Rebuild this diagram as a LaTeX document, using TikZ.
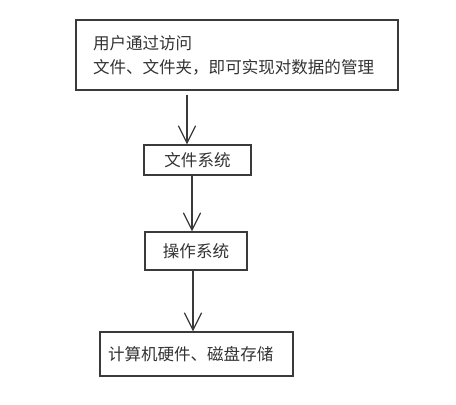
\documentclass[tikz,border=0pt]{standalone}
\usepackage{fontspec}
\newfontfamily\cjk{Noto Sans CJK SC}
\usetikzlibrary{arrows.meta}
\definecolor{ink}{HTML}{3A3A3A}
\definecolor{txt}{HTML}{333333}
\tikzset{
  box/.style={draw=ink, line width=0.9pt, rectangle, inner ysep=0pt, font=\cjk\fontsize{12.4pt}{18pt}\selectfont, text=txt,
    preaction={draw=ink!70, line width=0.5pt, transform canvas={xshift=0.6pt, yshift=-0.5pt}}},
  arr/.style={draw=ink, line width=0.9pt, -{Straight Barb[length=13pt,width=13pt,line width=0.9pt]}},
}
\begin{document}
\begin{tikzpicture}[x=0.75pt,y=-0.75pt]
\fill[white] (0,0) rectangle (456,404);
\useasboundingbox (0,0) rectangle (456,404);
\node[box, minimum width=322*0.75pt, minimum height=70*0.75pt, text width=288*0.75pt, inner xsep=17*0.75pt, align=left] (b1) at (237,55)
  {用户通过访问\\文件、文件夹，即可实现对数据的管理};
\node[box, minimum width=107*0.75pt, minimum height=30*0.75pt] (b2) at (197.5,160) {文件系统};
\node[box, minimum width=102*0.75pt, minimum height=38*0.75pt] (b3) at (196,251) {操作系统};
\node[box, minimum width=193*0.75pt, minimum height=44*0.75pt, text width=177*0.75pt, inner xsep=8*0.75pt, align=left] (b4) at (196.5,354) {计算机硬件、磁盘存储};
\draw[arr] (b1.south -| 187,0) ++(0,4) -- (b2.north -| 187,0);
\draw[arr] (b2.south -| 192,0) -- (b3.north -| 192,0);
\draw[arr] (b3.south -| 193,0) -- (b4.north -| 193,0);
\end{tikzpicture}
\end{document}
